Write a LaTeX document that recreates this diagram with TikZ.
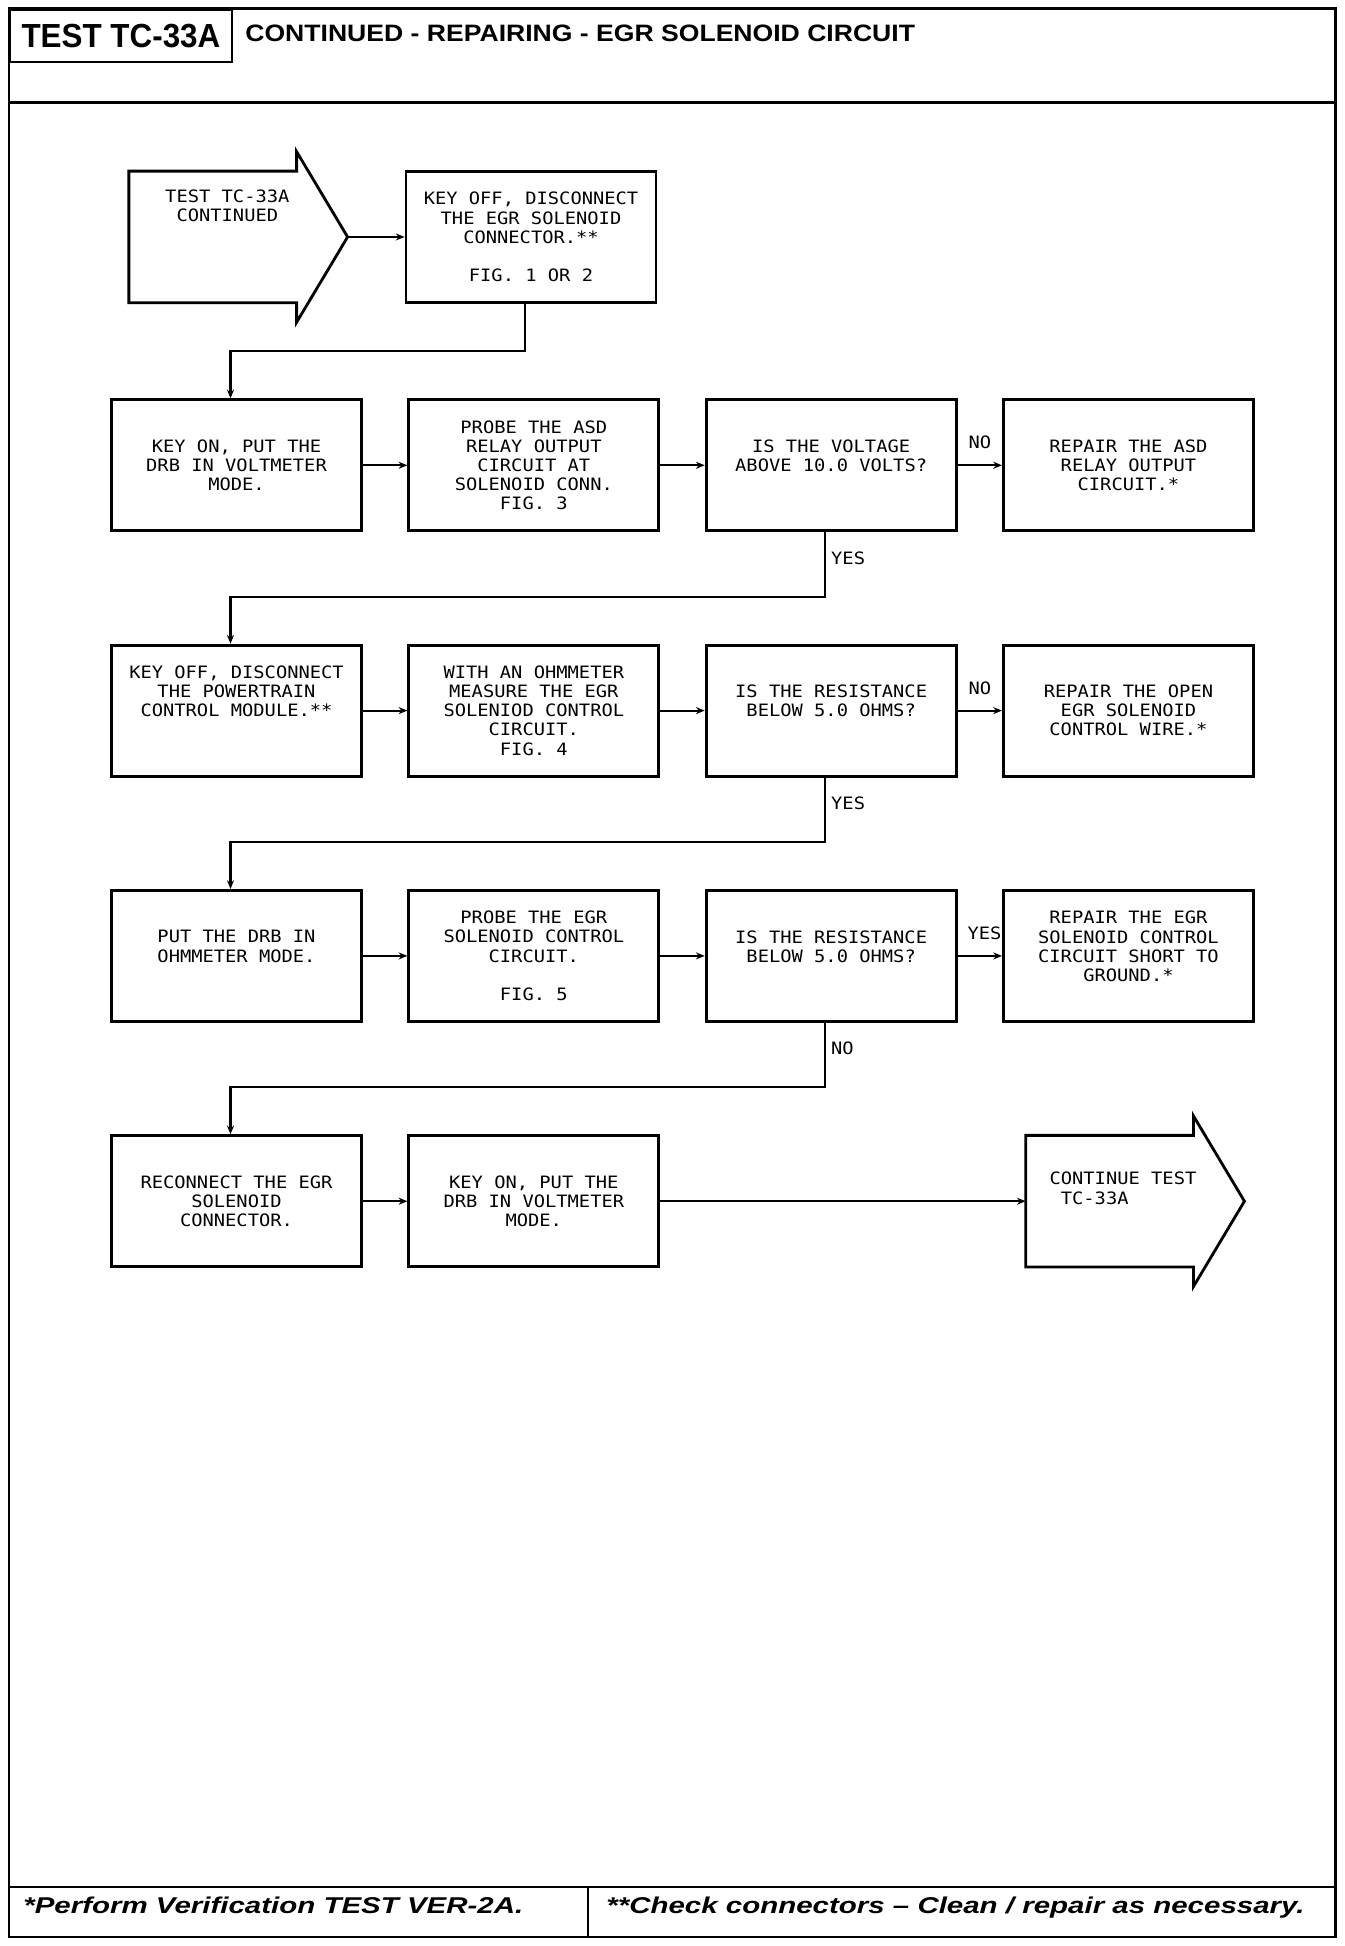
\documentclass[tikz,border=0pt]{standalone}
\usepackage{fontspec}
\newfontfamily\plotfont[FakeStretch=1.1]{DejaVu Sans Mono}
\newfontfamily\titlefont[FakeStretch=0.94]{Liberation Sans}
\newfontfamily\headfont[FakeStretch=1.12]{Liberation Sans}
\newfontfamily\notefont[FakeStretch=1.29]{Liberation Sans}
\newcommand{\boxfont}{\plotfont\fontsize{9.7}{10.9}\selectfont}
\usetikzlibrary{positioning, calc, arrows.meta}

\begin{document}
\begin{tikzpicture}[
    node distance=2.23cm and 0.89cm,
    stepbox/.style={rectangle, draw, line width=1.6pt, minimum width=5cm, minimum height=2.62cm, inner sep=0pt, align=center, font=\boxfont},
    arrowbody/.style={rectangle, minimum width=3.34cm, minimum height=2.62cm, inner sep=0pt},
    arrowline/.style={line width=1.6pt, line join=miter},
    arrowtext/.style={anchor=north west, inner sep=0pt, align=left, font=\boxfont},
    link/.style={->, >={Stealth[length=5pt, width=4pt]}, line width=1.2pt},
    answer/.style={font=\boxfont, inner sep=0pt},
    frame/.style={line width=1.7pt}
]
    % page frame, header and footer
    \useasboundingbox (0,0) rectangle (26.88,38.92);
    \draw[frame] (0.18,0.18) rectangle (26.70,38.74);
    \draw[frame] (0.18,36.86) -- (26.70,36.86);
    \draw[frame] (0.18,1.18) -- (26.70,1.18);
    \draw[line width=1.1pt] (11.76,0.18) -- (11.76,1.18);
    \node[draw, line width=1.1pt, minimum width=4.44cm, minimum height=1.04cm, anchor=north west, inner sep=0pt, font=\titlefont\bfseries\fontsize{19}{19}\selectfont] (testno) at (0.18,38.74) {TEST TC-33A};
    \node[anchor=base west, inner sep=0pt, font=\headfont\bfseries\fontsize{13.5}{13.5}\selectfont] (title) at (4.90,38.08) {CONTINUED - REPAIRING - EGR SOLENOID CIRCUIT};
    \node[anchor=base west, inner sep=0pt, font=\notefont\bfseries\itshape\fontsize{13}{13}\selectfont] (note1) at (0.46,0.64) {*Perform Verification TEST VER-2A.};
    \node[anchor=base west, inner sep=0pt, font=\notefont\bfseries\itshape\fontsize{13}{13}\selectfont] (note2) at (12.12,0.64) {**Check connectors – Clean / repair as necessary.};

    % row 1
    \node[stepbox] (disconnect) at (10.62,34.18) {KEY OFF, DISCONNECT\\THE EGR SOLENOID\\CONNECTOR.**\\~\\FIG. 1 OR 2};
    \node[arrowbody, left=2.16cm of disconnect] (start) {};
    \draw[arrowline] (start.north east) -- (start.north west) -- (start.south west) -- (start.south east) -- ++(0,-0.39) -- ($(start.east)+(1.02,0)$) coordinate (starttip) -- ($(start.north east)+(0,0.39)$) -- cycle;
    \node[arrowtext] (starttext) at ($(start.north west)+(0.72,-0.36)$) {TEST TC-33A\\\phantom{X}CONTINUED};

    % row 2
    \node[stepbox, below=1.89cm of disconnect, xshift=-5.89cm] (keyon) {KEY ON, PUT THE\\DRB IN VOLTMETER\\MODE.};
    \node[stepbox, right=of keyon] (probeasd) {PROBE THE ASD\\RELAY OUTPUT\\CIRCUIT AT\\SOLENOID CONN.\\FIG. 3};
    \node[stepbox, right=of probeasd] (voltage) {IS THE VOLTAGE\\ABOVE 10.0 VOLTS?\\~};
    \node[stepbox, right=of voltage] (repairasd) {REPAIR THE ASD\\RELAY OUTPUT\\CIRCUIT.*};

    % row 3
    \node[stepbox, below=of keyon] (keyoff) {KEY OFF, DISCONNECT\\THE POWERTRAIN\\CONTROL MODULE.**\\~\\~};
    \node[stepbox, right=of keyoff] (measure) {WITH AN OHMMETER\\MEASURE THE EGR\\SOLENIOD CONTROL\\CIRCUIT.\\FIG. 4};
    \node[stepbox, right=of measure] (openres) {IS THE RESISTANCE\\BELOW 5.0 OHMS?\\~};
    \node[stepbox, right=of openres] (repairopen) {REPAIR THE OPEN\\EGR SOLENOID\\CONTROL WIRE.*};

    % row 4
    \node[stepbox, below=of keyoff] (ohmmode) {PUT THE DRB IN\\OHMMETER MODE.\\~};
    \node[stepbox, right=of ohmmode] (probeegr) {PROBE THE EGR\\SOLENOID CONTROL\\CIRCUIT.\\~\\FIG. 5};
    \node[stepbox, right=of probeegr] (shortres) {IS THE RESISTANCE\\BELOW 5.0 OHMS?\\~};
    \node[stepbox, right=of shortres] (repairshort) {REPAIR THE EGR\\SOLENOID CONTROL\\CIRCUIT SHORT TO\\GROUND.*\\~};

    % row 5
    \node[stepbox, below=of ohmmode] (reconnect) {RECONNECT THE EGR\\SOLENOID\\CONNECTOR.};
    \node[stepbox, right=of reconnect] (keyonagain) {KEY ON, PUT THE\\DRB IN VOLTMETER\\MODE.};
    \node[arrowbody, right=7.31cm of keyonagain] (finish) {};
    \draw[arrowline] (finish.north east) -- (finish.north west) -- (finish.south west) -- (finish.south east) -- ++(0,-0.39) -- ($(finish.east)+(1.02,0)$) -- ($(finish.north east)+(0,0.39)$) -- cycle;
    \node[arrowtext] (finishtext) at ($(finish.north west)+(0.47,-0.73)$) {CONTINUE TEST\\\phantom{X}TC-33A};

    % connectors
    \draw[link] (starttip) -- (disconnect);
    \draw[link] ([xshift=-0.12cm]disconnect.south) |- ([xshift=-0.12cm, yshift=0.94cm]keyon.north) -- ([xshift=-0.12cm]keyon.north);
    \draw[link] (keyon) -- (probeasd);
    \draw[link] (probeasd) -- (voltage);
    \draw[link] (voltage) -- node[answer, pos=0, anchor=south west, xshift=0.2cm, yshift=0.3cm] {NO} (repairasd);
    \draw[link] ([xshift=-0.12cm]voltage.south) |- node[answer, pos=0.2, right=0.1cm] {YES} ([xshift=-0.12cm, yshift=0.94cm]keyoff.north) -- ([xshift=-0.12cm]keyoff.north);

    \draw[link] (keyoff) -- (measure);
    \draw[link] (measure) -- (openres);
    \draw[link] (openres) -- node[answer, pos=0, anchor=south west, xshift=0.2cm, yshift=0.3cm] {NO} (repairopen);
    \draw[link] ([xshift=-0.12cm]openres.south) |- node[answer, pos=0.2, right=0.1cm] {YES} ([xshift=-0.12cm, yshift=0.94cm]ohmmode.north) -- ([xshift=-0.12cm]ohmmode.north);

    \draw[link] (ohmmode) -- (probeegr);
    \draw[link] (probeegr) -- (shortres);
    \draw[link] (shortres) -- node[answer, pos=0, anchor=south west, xshift=0.18cm, yshift=0.3cm] {YES} (repairshort);
    \draw[link] ([xshift=-0.12cm]shortres.south) |- node[answer, pos=0.2, right=0.1cm] {NO} ([xshift=-0.12cm, yshift=0.94cm]reconnect.north) -- ([xshift=-0.12cm]reconnect.north);

    \draw[link] (reconnect) -- (keyonagain);
    \draw[link] (keyonagain) -- (finish);
\end{tikzpicture}
\end{document}
